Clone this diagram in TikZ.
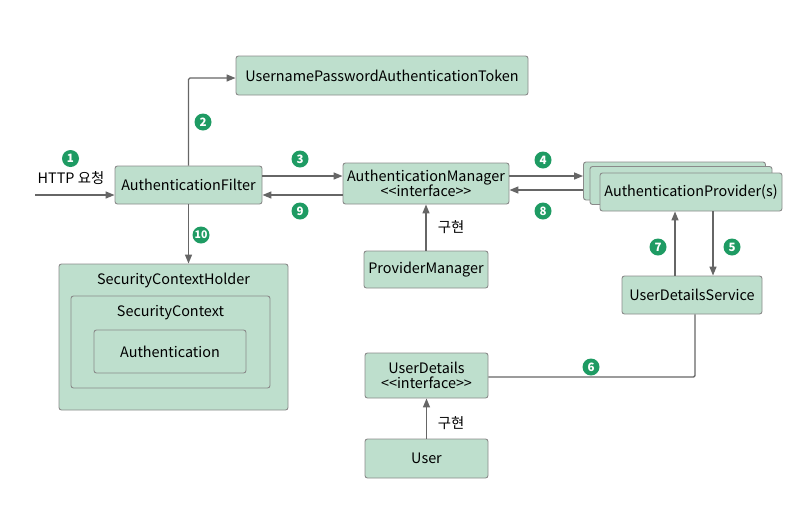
\documentclass[tikz,border=0pt]{standalone}
\usepackage{fontspec}
\setmainfont{Noto Sans CJK KR}
\usetikzlibrary{arrows.meta,positioning,calc}
\definecolor{boxfill}{HTML}{BEDFCD}
\definecolor{boxline}{HTML}{8A8A8A}
\definecolor{arrline}{HTML}{666666}
\definecolor{badgegreen}{HTML}{1E9B63}

\begin{document}
\begin{tikzpicture}[x=1pt, y=-1pt,
  box/.style={draw=boxline, fill=boxfill, rounded corners=2.5pt, line width=0.9pt, font=\fontsize{14.4}{16}\selectfont, align=center, inner sep=2pt},
  flow/.style={draw=arrline, line width=1.4pt, -{Triangle[length=9pt,width=7pt]}},
  plain/.style={draw=arrline, line width=1.4pt, rounded corners=1.5pt},
  badge/.style={circle, fill=badgegreen, text=white, font=\fontsize{11.5}{11.5}\selectfont\bfseries, inner sep=0pt, minimum size=17pt},
  note/.style={font=\fontsize{14.4}{16}\selectfont, inner sep=1pt}]
\useasboundingbox (0,0) rectangle (808,512);

% boxes
\node[box, minimum width=292, minimum height=39] (token) at (382,75.5) {UsernamePasswordAuthenticationToken};
\node[box, minimum width=147, minimum height=38] (filter) at (188.5,185) {AuthenticationFilter};
\node[box, minimum width=166, minimum height=41] (manager) at (426,183.5) {AuthenticationManager\\[-1pt]<{}<interface>{}>};
\node[box, minimum width=124, minimum height=37] (pm) at (426,269.5) {ProviderManager};
\node[box, minimum width=182, minimum height=38] (provback) at (674.5,181) {};
\node[box, minimum width=182, minimum height=38] (provmid) at (681,185.5) {};
\node[box, minimum width=182, minimum height=38] (provfront) at (691,192) {AuthenticationProvider(s)};
\node[box, minimum width=140, minimum height=38] (uds) at (692,295) {UserDetailsService};
\node[box, minimum width=229, minimum height=146] (holder) at (173.5,337) {};
\node[note, anchor=north] (holderlbl) at ([yshift=-8.5pt]holder.north) {SecurityContextHolder};
\node[box, minimum width=199, minimum height=92] (ctx) at (170.5,342) {};
\node[note, anchor=north] (ctxlbl) at ([yshift=-9pt]ctx.north) {SecurityContext};
\node[box, minimum width=152, minimum height=43] (auth) at (170,351.5) {Authentication};
\node[box, minimum width=123, minimum height=45] (udetails) at (426.5,375.5) {UserDetails\\[-1pt]<{}<interface>{}>};
\node[box, minimum width=123, minimum height=39] (user) at (426.5,458.5) {User};

% connectors
\coordinate (http) at (35,195);
\draw[flow] (http) -- (http -| filter.west);
\draw[flow, rounded corners=1.5pt] (filter.north) |- ([yshift=-2.5pt]token.west);
\draw[flow] ([yshift=9pt]filter.east) -- ([yshift=9pt]filter.east -| manager.west);
\draw[flow] ([yshift=-10pt]filter.east -| manager.west) -- ([yshift=-10pt]filter.east);
\draw[flow] ([yshift=7.5pt]manager.east) -- ([yshift=7.5pt]manager.east -| provback.west);
\draw[flow] ([yshift=-6.5pt]manager.east -| provback.west) -- ([yshift=-6.5pt]manager.east);
\draw[flow] (filter.south) -- (filter.south |- holder.north);
\draw[flow] (pm.north) -- (manager.south);
\draw[flow] ([xshift=22pt]provfront.south) -- ([xshift=22pt]provfront.south |- uds.north);
\draw[flow] ([xshift=-16pt]provfront.south |- uds.north) -- ([xshift=-16pt]provfront.south);
\draw[plain] ([xshift=3pt]uds.south) |- ([yshift=-1.5pt]udetails.east);
\draw[flow] (user.north) -- (udetails.south);

% labels
\node[note] (httplbl) at (71,178) {HTTP 요청};
\node[note] (impl1) at (451,227) {구현};
\node[note] (impl2) at (451,423) {구현};
\node[badge] (b1) at (70.5,158.5) {1};
\node[badge] (b2) at (203,122) {2};
\node[badge] (b3) at (300,159) {3};
\node[badge] (b4) at (543,160) {4};
\node[badge] (b5) at (732,247) {5};
\node[badge] (b6) at (591,367) {6};
\node[badge] (b7) at (658,247) {7};
\node[badge] (b8) at (543,211) {8};
\node[badge] (b9) at (300,211) {9};
\node[badge, font=\fontsize{10.5}{10.5}\selectfont\bfseries] (b10) at (201,235) {10};
\end{tikzpicture}
\end{document}
